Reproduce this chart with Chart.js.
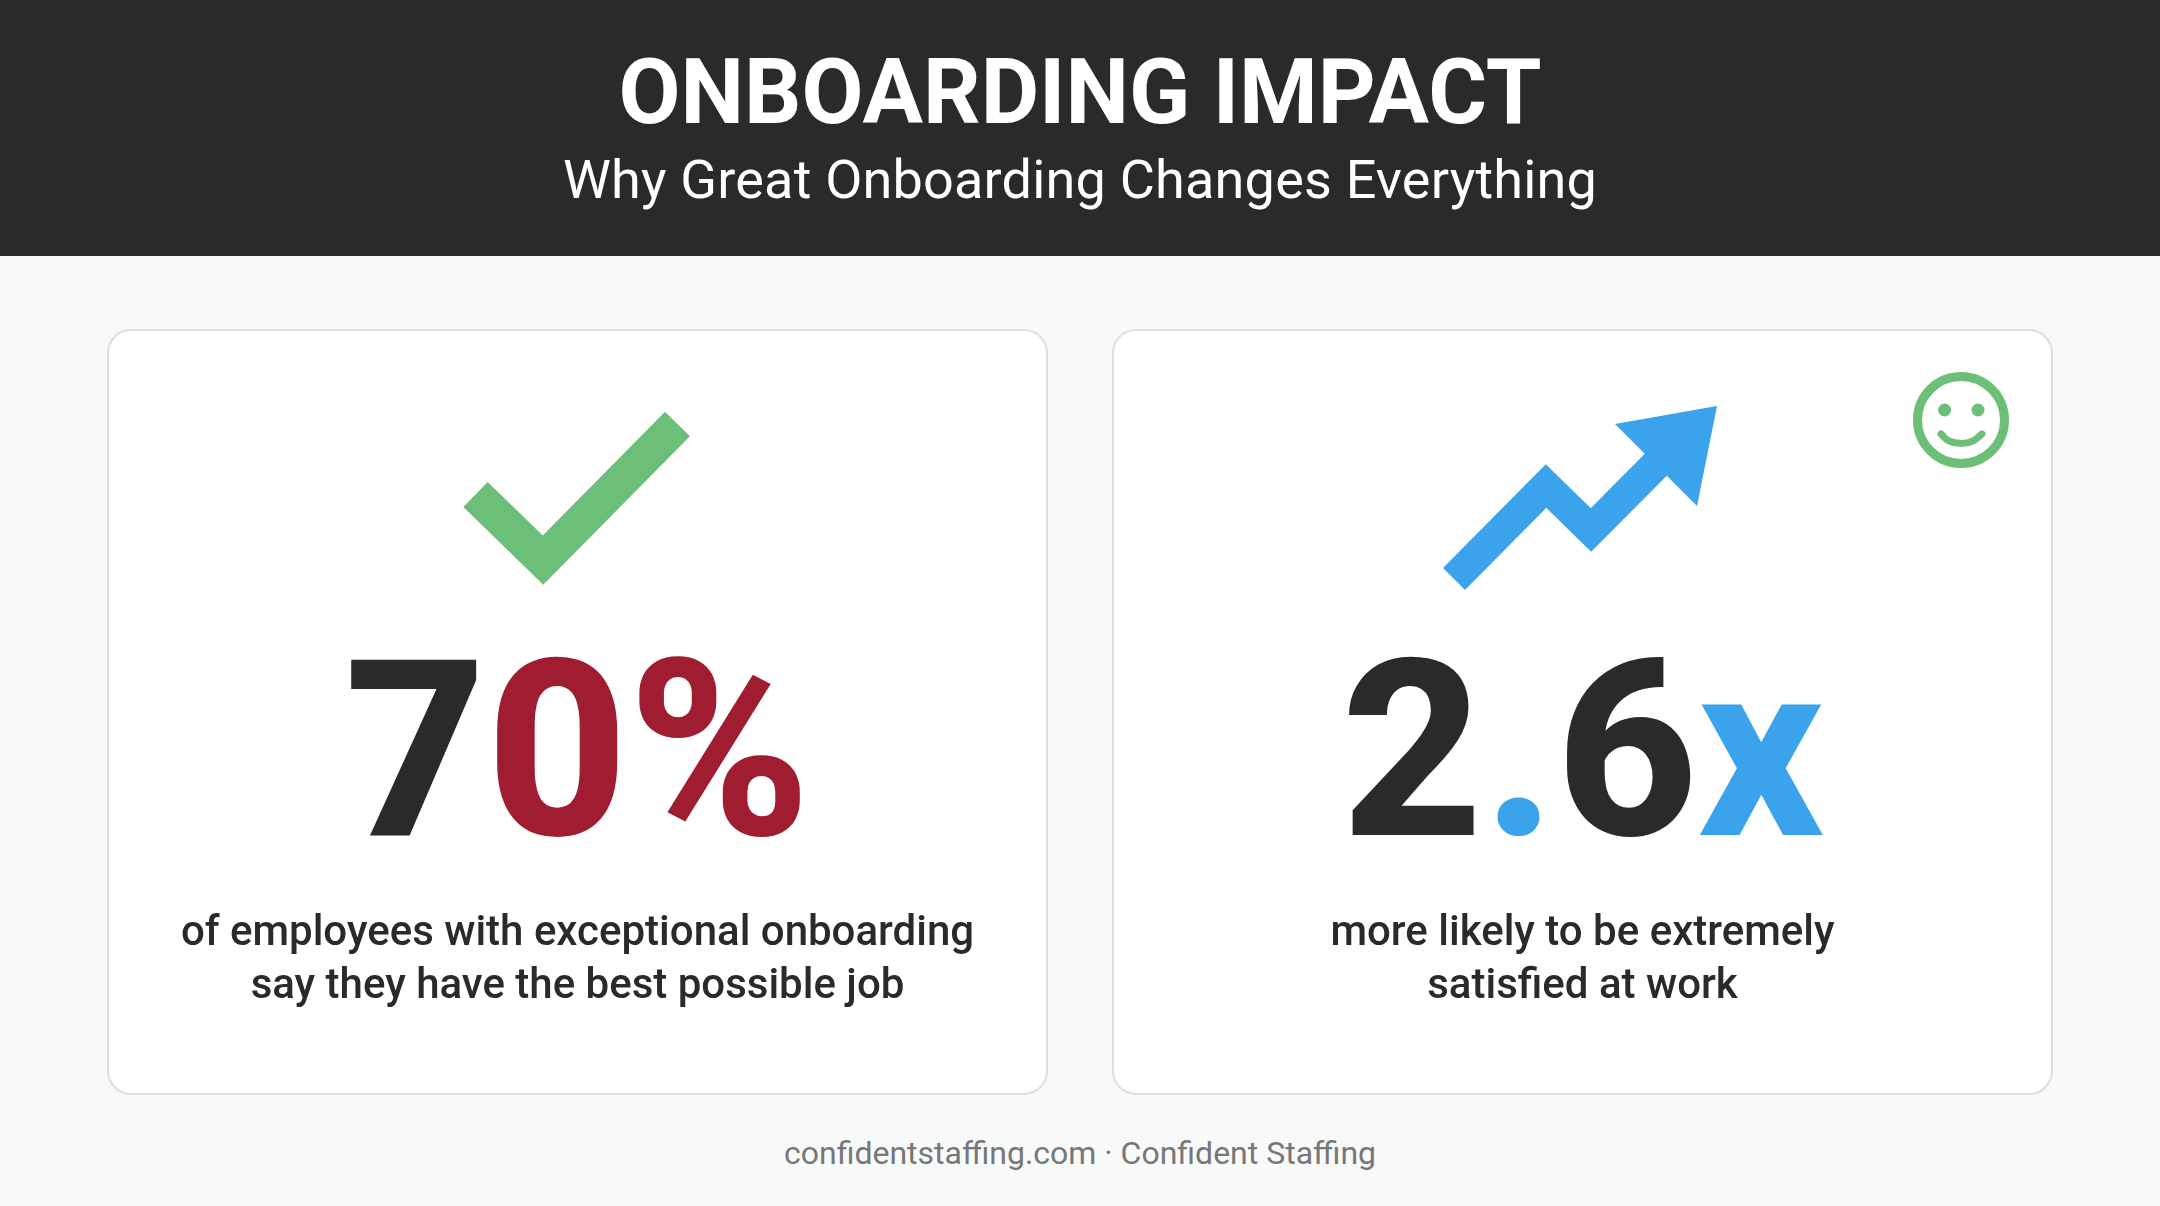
<!DOCTYPE html>
<html>
<head>
<meta charset="utf-8">
<script src="https://cdn.jsdelivr.net/npm/chart.js@4"></script>
<style>
html,body{margin:0;padding:0;background:#f8f9f9}
body{position:relative;width:2160px;height:1206px;overflow:hidden;font-family:Roboto,sans-serif;color:#2a2a2a}
.line{position:absolute;left:0;white-space:nowrap;text-align:center}
#header{position:absolute;left:0;top:0;width:2160px;height:256px;background:#2a2a2a}
#title{width:2160px;top:40px;line-height:106px;font-size:90px;font-weight:700;color:#fff}
#subtitle{width:2160px;top:146px;line-height:68px;font-size:54px;font-weight:400;letter-spacing:.2px;color:#fff}
.card{position:absolute;top:329px;height:762px;width:937px;background:#fff;border:2px solid #dedede;border-radius:24px;box-sizing:content-box}
.stat{top:611px;line-height:280px;font-size:246px;font-weight:800}
.desc{font-size:42px;font-weight:500;line-height:53px;top:904px}
#footer{width:2160px;top:1132px;line-height:42px;font-size:32px;color:#777}
canvas{position:absolute;display:block}
</style>
</head>
<body>
<div id="header"></div>
<div id="title" class="line"></div>
<div id="subtitle" class="line"></div>
<div class="card" style="left:107px"></div>
<div class="card" style="left:1112px"></div>
<canvas id="checkChart" width="270" height="220" style="left:440px;top:390px;width:270px;height:220px"></canvas>
<canvas id="trendChart" width="320" height="220" style="left:1420px;top:390px;width:320px;height:220px"></canvas>
<canvas id="faceChart" width="120" height="120" style="left:1900px;top:360px;width:120px;height:120px"></canvas>
<div id="stat0" class="line stat" style="left:107px;width:941px"></div>
<div id="stat1" class="line stat" style="left:1112px;width:941px"></div>
<div id="desc0" class="line desc" style="left:107px;width:941px"></div>
<div id="desc1" class="line desc" style="left:1112px;width:941px"></div>
<div id="footer" class="line"></div>

<script>
// テキスト
const titleText = "ONBOARDING IMPACT"
const subtitleText = "Why Great Onboarding Changes Everything"
const footerText = "confidentstaffing.com · Confident Staffing"
const statValues = [70, 2.6]
const statUnits = ["%", "x"]
const statDescriptions = [
    ["of employees with exceptional onboarding", "say they have the best possible job"],
    ["more likely to be extremely", "satisfied at work"]
]

// アイコンのデータ (それぞれのチャートの軸の値)
const checkX = [35.5, 103, 237.5]
const checkY = [115.5, 50, 186]
const trendX = [34, 126, 171, 245]
const trendY = [31, 124, 80, 154.5]
const headX = [195, 297, 277, 195]
const headY = [186, 204, 104, 186]
const faceX = [61]
const faceY = [60]
const eyeX = [44.6, 78]
const eyeY = [70, 70]
const smileX = [41, 49, 61, 73, 82]
const smileY = [46, 39, 36.5, 39, 46]

const dark = "#2a2a2a"
const red = "#a01c30"
const blue = "#3aa3ec"
const green = "#6cbf76"

function toPoints(xs, ys){
    return xs.map((x, i) => ({x: x, y: ys[i]}))
}

function drawIcon(id, maxX, maxY, datasets){
    return new Chart(document.getElementById(id), {
        type: "scatter",
        data: {datasets: datasets},
        options: {
            responsive: false,
            animation: false,
            devicePixelRatio: 1,
            // 大きい点で描画範囲が縮まないように
            layout: {padding: 0, autoPadding: false},
            plugins: {legend: {display: false}, tooltip: {enabled: false}},
            scales: {
                x: {display: false, min: 0, max: maxX},
                y: {display: false, min: 0, max: maxY}
            }
        }
    })
}

function lineSet(xs, ys, color, width){
    return {
        data: toPoints(xs, ys),
        showLine: true,
        borderColor: color,
        borderWidth: width,
        borderCapStyle: "butt",
        borderJoinStyle: "miter",
        pointRadius: 0
    }
}

document.getElementById("title").textContent = titleText
document.getElementById("subtitle").textContent = subtitleText
document.getElementById("footer").textContent = footerText

// 数字の色分け
function colorPiece(text, color){
    return `<span style="color:${color}">${text}</span>`
}
const a = String(statValues[0])
document.getElementById("stat0").innerHTML =
    colorPiece(a[0], dark) + colorPiece(a.slice(1) + statUnits[0], red)
const b = String(statValues[1]).split(".")
document.getElementById("stat1").innerHTML =
    colorPiece(b[0], dark) + colorPiece(".", blue) + colorPiece(b[1], dark) + colorPiece(statUnits[1], blue)

statDescriptions.forEach((lines, i) => {
    document.getElementById("desc" + i).innerHTML = lines.join("<br>")
})

drawIcon("checkChart", 270, 220, [lineSet(checkX, checkY, green, 35)])

drawIcon("trendChart", 320, 220, [
    lineSet(trendX, trendY, blue, 31),
    {
        data: toPoints(headX, headY),
        showLine: true,
        fill: "shape",
        backgroundColor: blue,
        borderColor: blue,
        borderWidth: 0,
        pointRadius: 0
    }
])

drawIcon("faceChart", 120, 120, [
    {
        data: toPoints(faceX, faceY),
        pointRadius: 43.5,
        pointBorderWidth: 9,
        pointBorderColor: green,
        pointBackgroundColor: "rgba(0,0,0,0)"
    },
    {
        data: toPoints(eyeX, eyeY),
        pointRadius: 6.5,
        pointBorderWidth: 0,
        pointBackgroundColor: green
    },
    Object.assign(lineSet(smileX, smileY, green, 7), {tension: 0.4, borderCapStyle: "round"})
])
</script>
</body>
</html>
